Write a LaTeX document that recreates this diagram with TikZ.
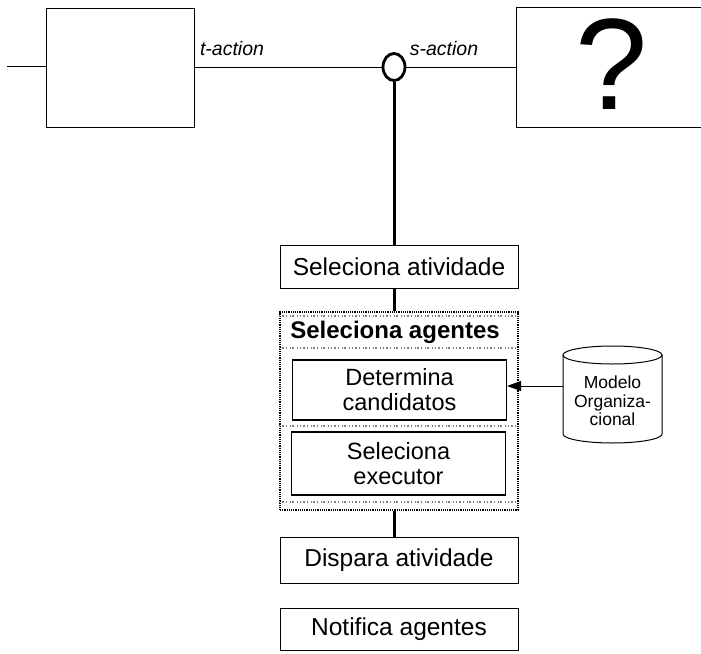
\documentclass[tikz,border=0pt]{standalone}
\usepackage{fontspec}
\setmainfont{Liberation Sans}
\usetikzlibrary{arrows.meta,positioning,shapes.geometric}
\begin{document}
\begin{tikzpicture}[x=1pt,y=-1pt,
  box/.style={draw,line width=1pt,minimum width=238pt,inner sep=0pt,font=\fontsize{24.5}{26}\selectfont},
  inbox/.style={draw,line width=1.2pt,minimum width=214pt,align=center,inner sep=0pt,font=\fontsize{23.5}{25}\selectfont},
  thick link/.style={line width=3pt},
  thin link/.style={line width=0.9pt},
  speckle/.style={gray,line width=1.3pt,dash pattern=on 0.8pt off 1.6pt on 2pt off 2.4pt on 0.6pt off 3pt},
  lbl/.style={font=\fontsize{19.5}{21}\selectfont\itshape,inner sep=0pt}]
\useasboundingbox (0,0) rectangle (701,653);
% top row: two action boxes joined through a connector circle
\node[draw,line width=1pt,minimum width=148pt,minimum height=119pt,inner sep=0pt] (left) at (120,67.5) {};
\node[draw,line width=1pt,minimum width=190pt,minimum height=120pt,inner sep=0pt] (right) at (611,67) {};
\node[font=\fontsize{130}{130}\selectfont,inner sep=0pt] (q) at (612,64) {?};
\coordinate (in) at (7,66);
\node[draw,ellipse,line width=2.8pt,minimum width=22pt,minimum height=27pt,inner sep=0pt] (join) at (394,67) {};
\draw[thin link] (in) -- (left.west |- in);
\draw[thin link] (left.east |- join) -- (join.west);
\draw[thin link] (join.east) -- (right.west |- join);
\node[lbl,anchor=south] at (232,56) {t-action};
\node[lbl,anchor=south] at (444,56) {s-action};
% pipeline of steps
\node[box,minimum height=43pt] (sel) at (399,266.5) {Seleciona atividade};
\node[draw,densely dotted,line width=1.2pt,minimum width=238pt,minimum height=198pt,inner sep=0pt] (ag) at (399,411) {};
\draw[speckle] (ag.west |- 0,316) -- (ag.east |- 0,316);
\draw[speckle] (ag.west |- 0,348) -- (ag.east |- 0,348);
\draw[speckle] (ag.west |- 0,426) -- (ag.east |- 0,426);
\draw[speckle] (ag.west |- 0,502) -- (ag.east |- 0,502);
\node[font=\fontsize{24}{26}\selectfont\bfseries,inner sep=0pt] (agt) at (395,332) {Seleciona agentes};
\node[inbox,minimum height=60pt] (cand) at (399.5,390) {Determina\\candidatos};
\node[inbox,minimum height=63pt] (exec) at (398.5,463.5) {Seleciona\\executor};
\node[box,minimum height=46pt] (disp) at (399,560) {Dispara atividade};
\node[box,minimum height=42pt] (notif) at (399,629) {Notifica agentes};
\draw[thick link] (join.south) -- (sel.north -| join);
\draw[thick link] (sel.south -| join) -- (ag.north -| join);
\draw[thick link] (ag.south -| join) -- (disp.north -| join);
% organisational model store
\draw[line width=1pt,fill=white] (563,355) -- (563,434) arc[start angle=180,end angle=360,x radius=49.5pt,y radius=9pt] -- (662,355);
\draw[line width=1pt] (612.5,355) ellipse[x radius=49.5pt,y radius=9pt];
\node[align=center,inner sep=0pt,font=\fontsize{17.5}{18.5}\selectfont] (org) at (612.5,401) {Modelo\\Organiza-\\cional};
\coordinate (orgw) at (563,386);
\draw[thin link,-{Triangle[length=14pt,width=10pt]}] (orgw) -- (cand.east |- orgw);
\end{tikzpicture}
\end{document}
